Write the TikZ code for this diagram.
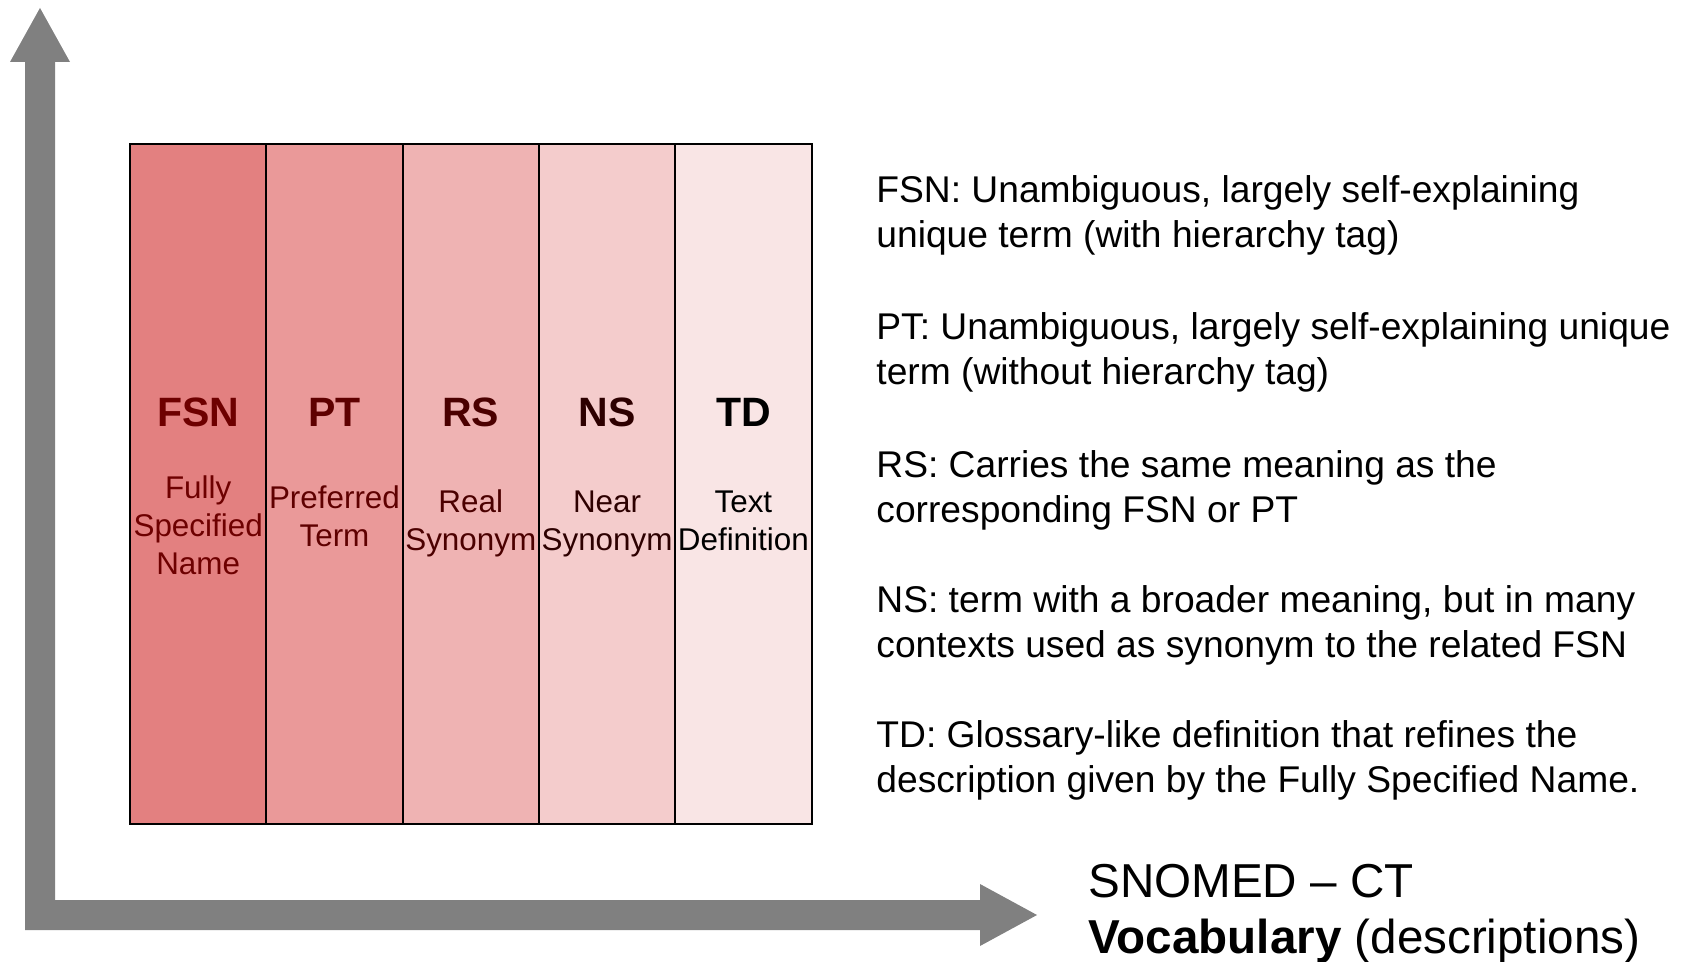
\documentclass[tikz,border=0pt]{standalone}
\usepackage{fontspec}
\setmainfont{Liberation Sans}
\usetikzlibrary{calc}

\definecolor{axisgray}{RGB}{128,128,128}
\definecolor{fsnfill}{RGB}{227,128,128}
\definecolor{ptfill}{RGB}{234,153,153}
\definecolor{rsfill}{RGB}{239,179,179}
\definecolor{nsfill}{RGB}{244,204,204}
\definecolor{tdfill}{RGB}{249,229,229}
\definecolor{fsntext}{RGB}{110,0,0}
\definecolor{pttext}{RGB}{95,0,0}
\definecolor{rstext}{RGB}{75,0,0}
\definecolor{nstext}{RGB}{45,0,0}
\definecolor{tdtext}{RGB}{0,0,0}

\tikzset{
  colbox/.style={draw=black, line width=1pt, minimum width=68.15pt, minimum height=340pt, inner sep=0pt},
  colhead/.style={font=\fontsize{20.5}{24}\selectfont\bfseries, inner sep=0pt},
  colname/.style={font=\fontsize{15.7}{19}\selectfont, align=center, inner sep=0pt},
  explain/.style={font=\fontsize{18.6}{22.5}\selectfont, align=left, anchor=west, inner sep=0pt},
}

\begin{document}
\begin{tikzpicture}[x=0.5pt, y=-0.5pt]
\useasboundingbox (0,0) rectangle (1685,962);
% axes
\fill[axisgray] (25,930) -- (25,62) -- (10,62) -- (40,8) -- (70,62) -- (55,62)
  -- (55,900) -- (980,900) -- (980,884) -- (1037,915) -- (980,946) -- (980,930) -- cycle;
% description columns
\foreach \i/\abbr/\name/\dy/\kind in {
  0/FSN/{Fully\\Specified\\Name}/525/fsn,
  1/PT/{Preferred\\Term}/516/pt,
  2/RS/{Real\\Synonym}/523/rs,
  3/NS/{Near\\Synonym}/524/ns,
  4/TD/{Text\\Definition}/521/td} {
 \node[colbox, fill=\kind fill] (col-\kind) at (198.15+\i*136.3, 484) {};
 \node[colhead, text=\kind text] (head-\kind) at (198.15+\i*136.3, 412) {\abbr};
 \node[colname, text=\kind text] (name-\kind) at (198.15+\i*136.3, \dy) {\name};
}
% explanations
\node[explain] (fsn-text) at (876,215) {FSN: Unambiguous, largely self-explaining\\unique term (with hierarchy tag)};
\node[explain] (pt-text) at (876,352) {PT: Unambiguous, largely self-explaining unique\\term (without hierarchy tag)};
\node[explain] (rs-text) at (876,490) {RS: Carries the same meaning as the\\corresponding FSN or PT};
\node[explain] (ns-text) at (876,625) {NS: term with a broader meaning, but in many\\contexts used as synonym to the related FSN};
\node[explain] (td-text) at (876,760) {TD: Glossary-like definition that refines the\\description given by the Fully Specified Name.};
% axis label
\node[font=\fontsize{23.8}{28}\selectfont, align=left, anchor=west, inner sep=0pt] (vocab) at (1088,914)
  {SNOMED -- CT\\\textbf{Vocabulary} (descriptions)};
\end{tikzpicture}
\end{document}
